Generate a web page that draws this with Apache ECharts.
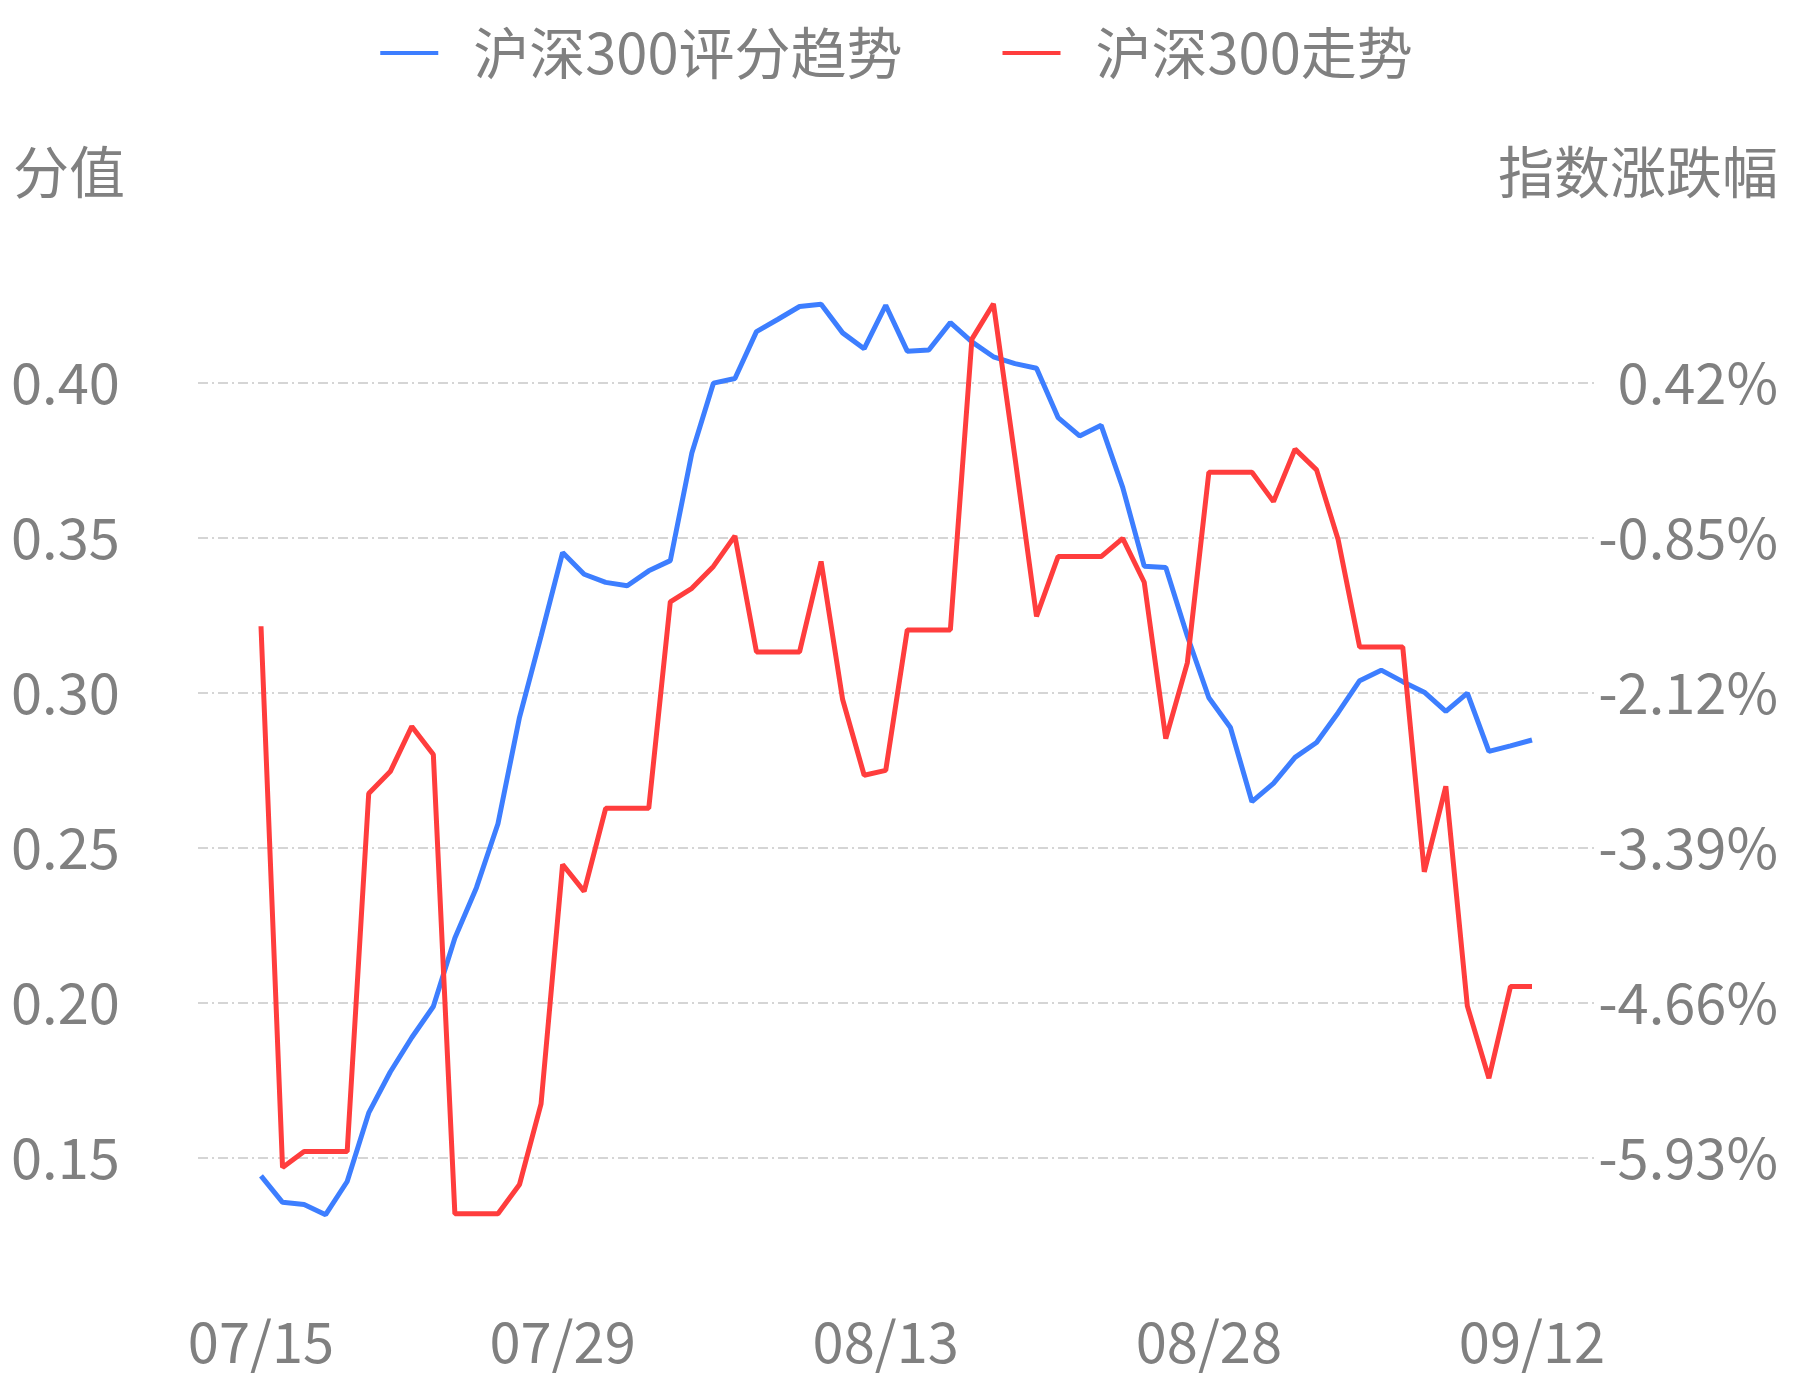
<!DOCTYPE html>
<html><head><meta charset="utf-8">
<script src="https://cdn.jsdelivr.net/npm/echarts@6/dist/echarts.min.js"></script>
<style>html,body{margin:0;padding:0;background:#fff}#c{width:1793px;height:1380px}</style>
</head><body><div id="c"></div>
<script>
const dates = ['07/15','07/16','07/17','07/18','07/19','07/20','07/21','07/22','07/23','07/24','07/25','07/26','07/27','07/28','07/29','07/30','07/31','08/01','08/02','08/03','08/04','08/05','08/06','08/07','08/08','08/09','08/10','08/11','08/12','08/13','08/14','08/15','08/16','08/17','08/18','08/19','08/20','08/21','08/22','08/23','08/24','08/25','08/26','08/27','08/28','08/29','08/30','08/31','09/01','09/02','09/03','09/04','09/05','09/06','09/07','09/08','09/09','09/10','09/11','09/12'];
const scoreTrend = [0.1445,0.1360,0.1353,0.1320,0.1427,0.1648,0.1780,0.1891,0.1991,0.2212,0.2374,0.2580,0.2923,0.3185,0.3454,0.3384,0.3358,0.3347,0.3395,0.3428,0.3775,0.4000,0.4015,0.4166,0.4206,0.4247,0.4254,0.4162,0.4111,0.4251,0.4103,0.4107,0.4195,0.4133,0.4085,0.4063,0.4048,0.3889,0.3830,0.3864,0.3664,0.3410,0.3406,0.3185,0.2986,0.2890,0.2651,0.2710,0.2794,0.2842,0.2938,0.3041,0.3075,0.3038,0.3004,0.2942,0.3001,0.2813,0.2831,0.2850];
const indexChange = [-1.57,-6.00,-5.87,-5.87,-5.87,-2.94,-2.76,-2.39,-2.62,-6.38,-6.38,-6.38,-6.14,-5.48,-3.52,-3.74,-3.06,-3.06,-3.06,-1.37,-1.26,-1.08,-0.83,-1.78,-1.78,-1.78,-1.04,-2.17,-2.79,-2.75,-1.60,-1.60,-1.60,0.78,1.07,-0.19,-1.49,-1.00,-1.00,-1.00,-0.85,-1.21,-2.49,-1.87,-0.31,-0.31,-0.31,-0.55,-0.12,-0.29,-0.86,-1.74,-1.74,-1.74,-3.58,-2.88,-4.68,-5.27,-4.52,-4.52];
const leftTicks = ['0.15','0.20','0.25','0.30','0.35','0.40'];
const rightTicks = ['-5.93%','-4.66%','-3.39%','-2.12%','-0.85%','0.42%'];
const labelIdx = [0,14,29,44,59];
const gray = '#808080';
const font = 'Noto Sans CJK SC';
const chart = echarts.init(document.getElementById('c'));
chart.setOption({
  animation:false,
  textStyle:{fontFamily:font},
  legend:{top:20,left:'center',itemWidth:58,itemHeight:4,itemGap:100,icon:'rect',
    textStyle:{fontSize:56,color:gray,fontFamily:font,padding:[0,0,0,30]},
    data:['沪深300评分趋势','沪深300走势']},
  graphic:[
    {type:'text',left:13,top:144,style:{text:'分值',fontSize:56,fill:gray,fontFamily:font}},
    {type:'text',right:15,top:144,style:{text:'指数涨跌幅',fontSize:56,fill:gray,fontFamily:font}}
  ],
  grid:[
    {left:261,right:261,top:228,bottom:66},
    {left:198,right:196,top:383,bottom:222}
  ],
  xAxis:[
    {gridIndex:0,type:'category',data:dates,boundaryGap:false,
     axisLine:{show:false},axisTick:{show:false},splitLine:{show:false},
     axisLabel:{interval:(i)=>labelIdx.includes(i),fontSize:56,color:gray,margin:0,fontFamily:font}},
    {gridIndex:1,type:'value',show:false,min:0,max:1}
  ],
  yAxis:[
    {gridIndex:0,type:'value',min:0.10,max:0.45,show:false},
    {gridIndex:0,type:'value',min:-7.20,max:1.69,show:false},
    {gridIndex:1,type:'value',min:0,max:5,interval:1,position:'left',
     axisLine:{show:false},axisTick:{show:false},
     axisLabel:{formatter:(v)=>leftTicks[Math.round(v)],fontSize:56,color:gray,margin:187,align:'left',fontFamily:font},
     splitLine:{show:true,lineStyle:{color:'#c8c8c8',width:1.5,type:[10,4,2,4]}}},
    {gridIndex:1,type:'value',min:0,max:5,interval:1,position:'right',
     axisLine:{show:false},axisTick:{show:false},splitLine:{show:false},
     axisLabel:{formatter:(v)=>rightTicks[Math.round(v)],fontSize:56,color:gray,margin:181,align:'right',fontFamily:font}}
  ],
  series:[
    {name:'沪深300评分趋势',type:'line',xAxisIndex:0,yAxisIndex:0,data:scoreTrend,symbol:'none',
     itemStyle:{color:'#3d7eff'},lineStyle:{width:5,color:'#3d7eff'}},
    {name:'沪深300走势',type:'line',xAxisIndex:0,yAxisIndex:1,data:indexChange,symbol:'none',
     itemStyle:{color:'#ff3d3d'},lineStyle:{width:5,color:'#ff3d3d'}}
  ]
});
</script></body></html>
